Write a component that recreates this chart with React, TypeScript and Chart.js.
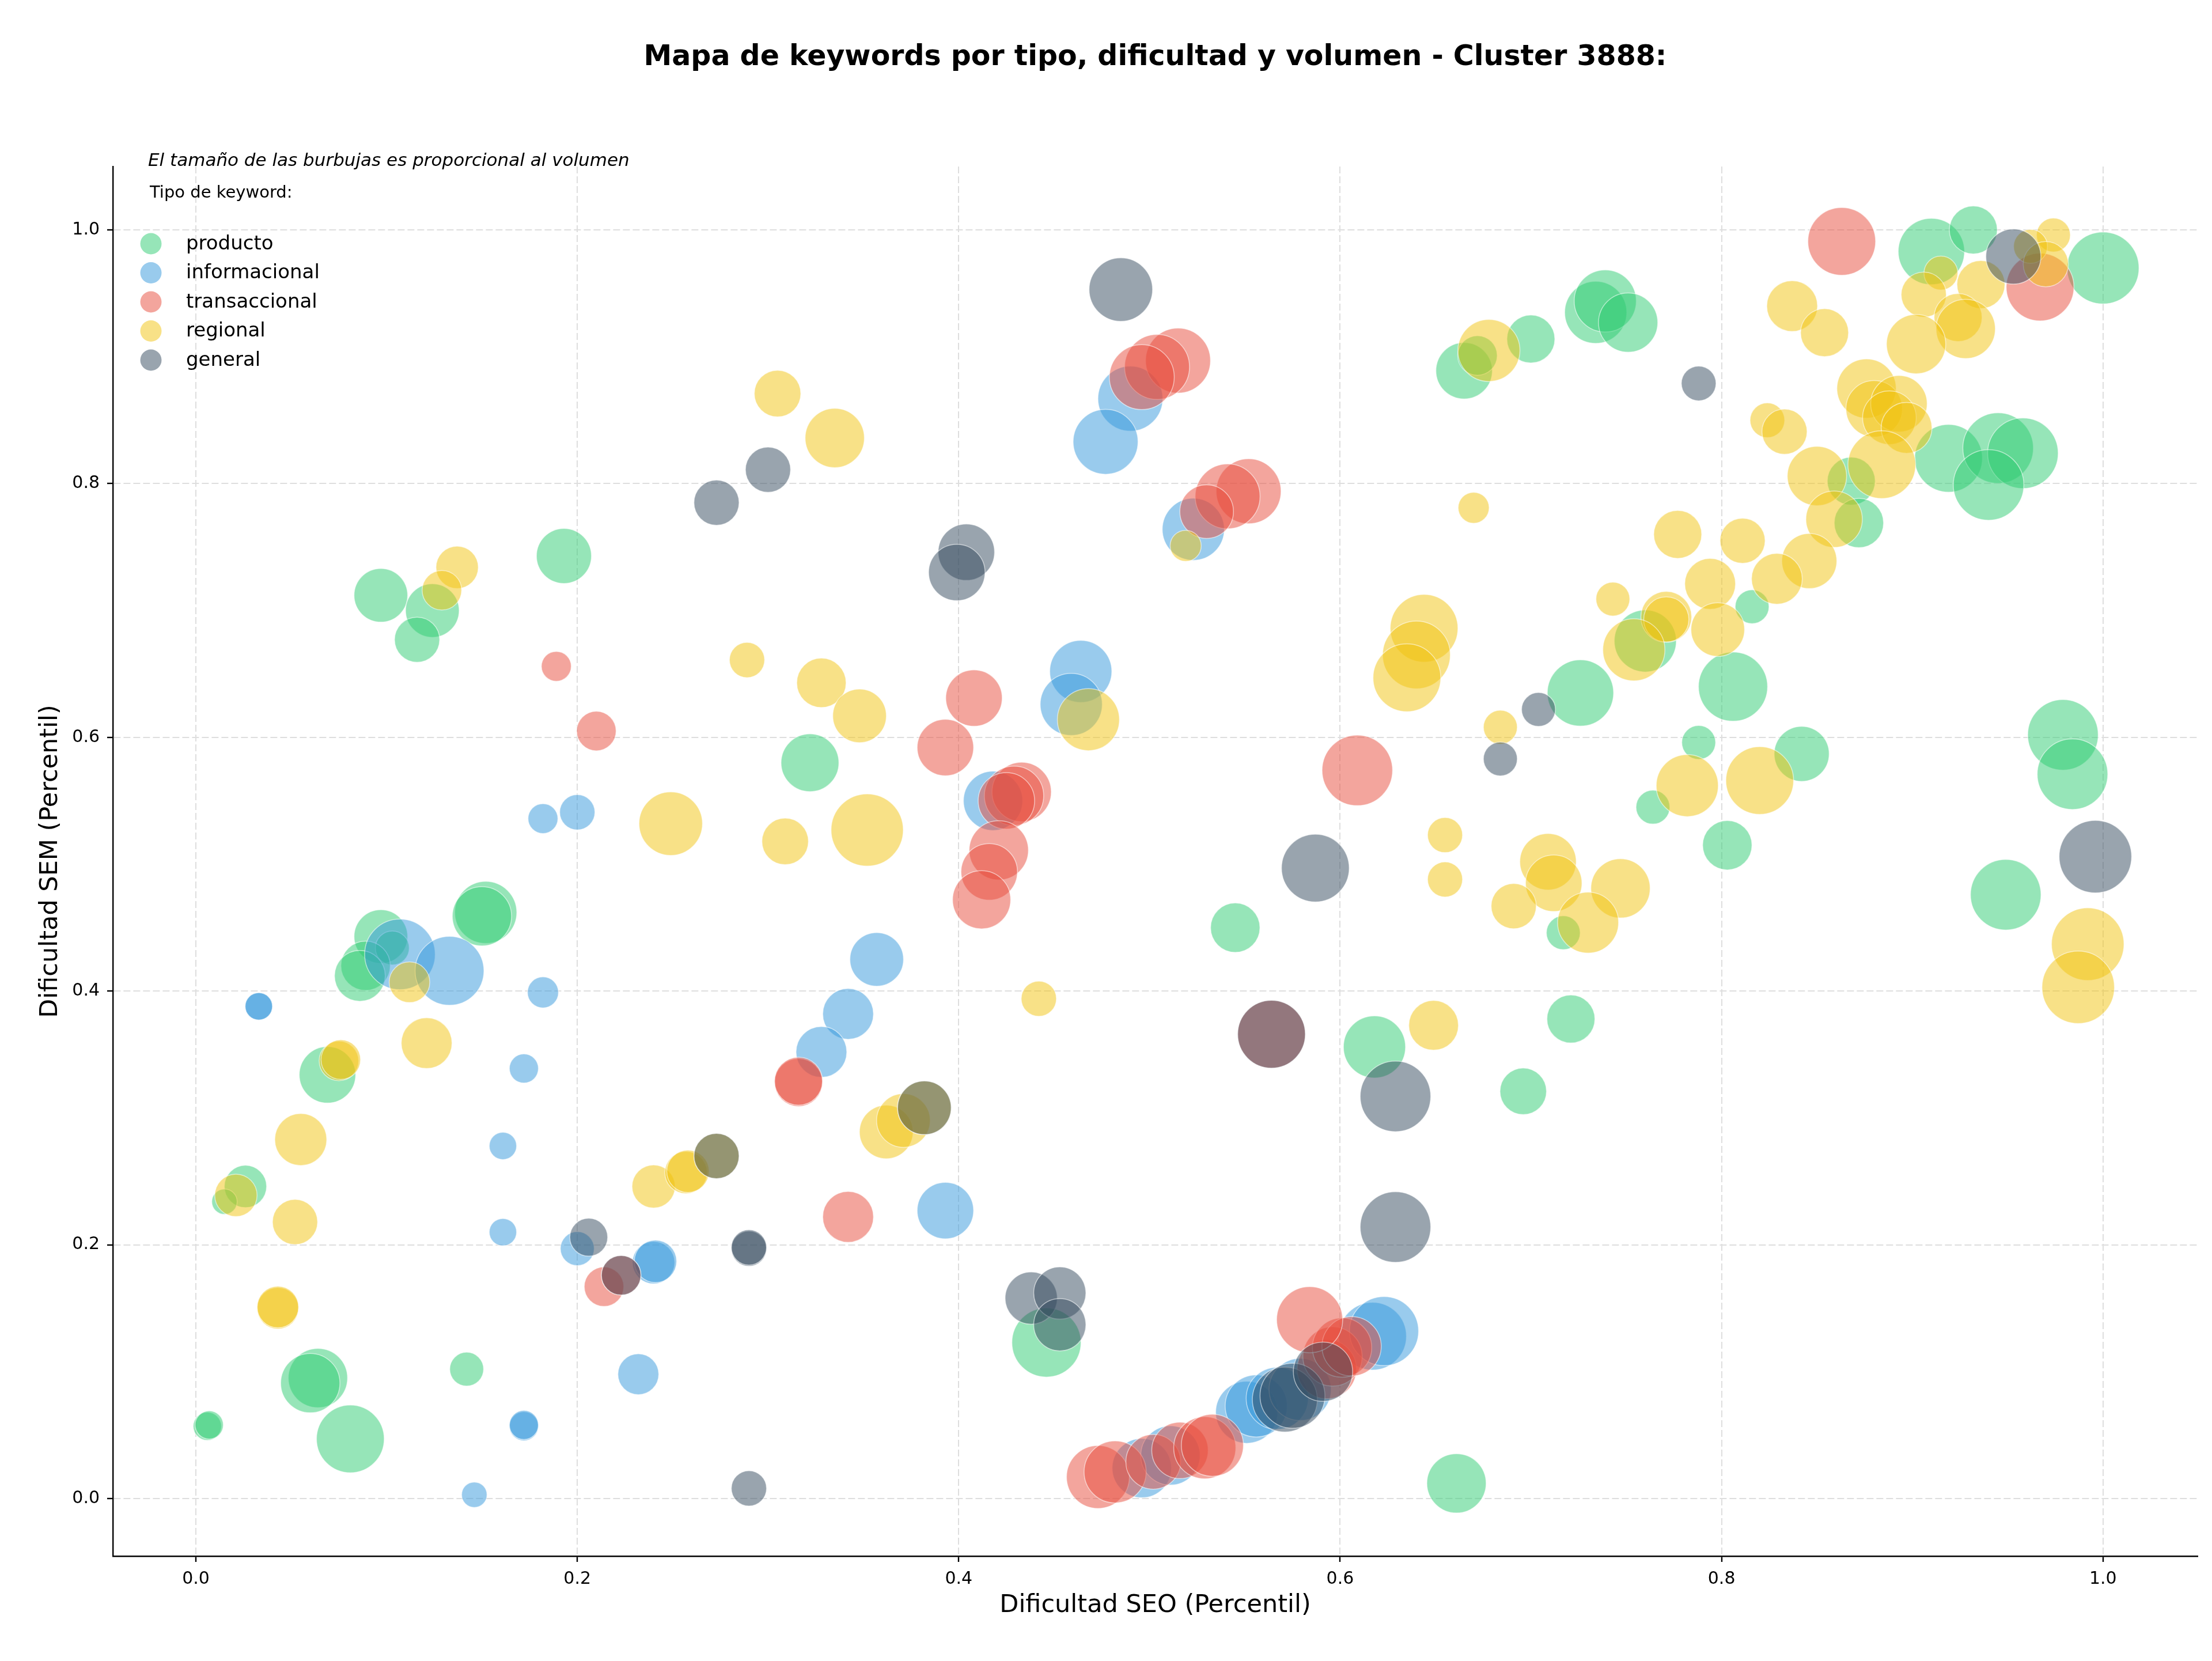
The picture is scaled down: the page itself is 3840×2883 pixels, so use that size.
import React, { useEffect, useRef } from 'react';
import { Chart, registerables } from 'chart.js';

Chart.register(...registerables);

const ANCHO = 3840;
const ALTO = 2883;

const titulo = 'Mapa de keywords por tipo, dificultad y volumen - Cluster 3888:';
const subtitulo = 'El tamaño de las burbujas es proporcional al volumen';
const tituloLeyenda = 'Tipo de keyword:';
const etiquetaX = 'Dificultad SEO (Percentil)';
const etiquetaY = 'Dificultad SEM (Percentil)';

const tiposKeyword = ['producto', 'informacional', 'transaccional', 'regional', 'general'];
const coloresTipo = ['#2ecc71', '#3498db', '#e74c3c', '#f1c40f', '#34495e'];

const ticksEje = [0, 0.2, 0.4, 0.6, 0.8, 1.0];

// producto
const productoSeo = [1.0, 0.91, 0.932, 0.734, 0.739, 0.751, 0.665, 0.672, 0.7, 0.919, 0.945, 0.958, 0.94, 0.868, 0.872, 0.816, 0.76, 0.726, 0.806, 0.788, 0.842, 0.979, 0.984, 0.764, 0.803, 0.949, 0.717, 0.721, 0.618, 0.696, 0.661, 0.545, 0.446, 0.322, 0.193, 0.097, 0.124, 0.116, 0.152, 0.15, 0.097, 0.103, 0.089, 0.086, 0.069, 0.026, 0.015, 0.064, 0.06, 0.081, 0.142, 0.006, 0.007];
const productoSem = [0.97, 0.983, 1.0, 0.935, 0.944, 0.927, 0.889, 0.901, 0.914, 0.82, 0.828, 0.824, 0.799, 0.802, 0.769, 0.703, 0.676, 0.635, 0.64, 0.596, 0.587, 0.602, 0.571, 0.545, 0.515, 0.476, 0.446, 0.378, 0.356, 0.321, 0.012, 0.45, 0.123, 0.58, 0.743, 0.712, 0.7, 0.677, 0.462, 0.459, 0.443, 0.434, 0.42, 0.412, 0.334, 0.246, 0.234, 0.095, 0.091, 0.047, 0.102, 0.057, 0.058];
const productoVol = [6500, 5520, 2890, 4840, 4840, 4410, 4000, 1960, 2890, 5760, 6250, 6250, 6250, 2890, 3060, 1440, 4840, 5520, 6000, 1440, 3800, 6250, 6250, 1440, 3060, 6250, 1440, 2890, 4840, 2720, 4410, 3060, 6000, 4200, 3800, 3610, 3610, 2560, 4840, 4410, 3610, 1440, 3060, 3240, 4000, 2250, 810, 4410, 4410, 5760, 1440, 1000, 1000];

// informacional
const informacionalSeo = [0.49, 0.477, 0.523, 0.464, 0.459, 0.357, 0.342, 0.328, 0.393, 0.24, 0.241, 0.2, 0.232, 0.172, 0.172, 0.146, 0.161, 0.161, 0.172, 0.182, 0.182, 0.2, 0.033, 0.033, 0.107, 0.133, 0.418, 0.496, 0.511, 0.551, 0.556, 0.567, 0.579, 0.617, 0.623];
const informacionalSem = [0.867, 0.833, 0.764, 0.652, 0.626, 0.425, 0.382, 0.352, 0.227, 0.186, 0.187, 0.197, 0.098, 0.057, 0.058, 0.003, 0.21, 0.278, 0.339, 0.399, 0.536, 0.541, 0.388, 0.388, 0.429, 0.416, 0.55, 0.024, 0.034, 0.068, 0.073, 0.079, 0.086, 0.128, 0.132];
const informacionalVol = [5290, 5290, 4840, 4840, 4840, 3610, 3240, 3240, 4000, 2250, 2250, 1440, 2100, 1060, 1060, 810, 940, 940, 1060, 1210, 1120, 1560, 940, 940, 6250, 5950, 4410, 4410, 4410, 4840, 4840, 4840, 4840, 5760, 6000];

// transaccional
const transaccionalSeo = [0.863, 0.967, 0.515, 0.504, 0.496, 0.552, 0.541, 0.53, 0.189, 0.21, 0.408, 0.393, 0.433, 0.429, 0.425, 0.421, 0.416, 0.412, 0.609, 0.316, 0.316, 0.342, 0.214, 0.223, 0.564, 0.473, 0.482, 0.502, 0.516, 0.529, 0.533, 0.593, 0.596, 0.601, 0.606, 0.584];
const transaccionalSem = [0.991, 0.955, 0.897, 0.892, 0.884, 0.794, 0.79, 0.778, 0.656, 0.605, 0.631, 0.592, 0.557, 0.554, 0.55, 0.511, 0.494, 0.472, 0.574, 0.328, 0.329, 0.222, 0.167, 0.176, 0.366, 0.017, 0.021, 0.029, 0.038, 0.04, 0.042, 0.102, 0.112, 0.119, 0.12, 0.141];
const transaccionalVol = [5760, 5760, 5290, 5290, 5290, 5290, 5290, 3610, 1120, 1960, 4000, 4000, 4410, 4410, 4000, 4410, 4000, 4240, 6250, 2890, 2890, 3240, 1960, 1960, 5760, 4970, 4840, 3760, 4000, 4840, 4840, 4410, 4410, 4410, 4410, 5480];

// regional
const regionalSeo = [0.974, 0.962, 0.97, 0.915, 0.936, 0.906, 0.924, 0.928, 0.902, 0.837, 0.854, 0.876, 0.88, 0.893, 0.888, 0.897, 0.884, 0.85, 0.859, 0.824, 0.833, 0.777, 0.811, 0.846, 0.829, 0.794, 0.743, 0.771, 0.771, 0.798, 0.754, 0.678, 0.67, 0.644, 0.64, 0.635, 0.684, 0.782, 0.82, 0.655, 0.655, 0.709, 0.712, 0.691, 0.747, 0.73, 0.649, 0.992, 0.987, 0.305, 0.335, 0.137, 0.129, 0.289, 0.328, 0.348, 0.468, 0.249, 0.309, 0.352, 0.442, 0.112, 0.075, 0.076, 0.121, 0.055, 0.021, 0.052, 0.043, 0.043, 0.24, 0.257, 0.258, 0.273, 0.362, 0.371, 0.382, 0.519];
const regionalSem = [0.996, 0.987, 0.973, 0.966, 0.957, 0.949, 0.931, 0.922, 0.91, 0.94, 0.919, 0.875, 0.859, 0.863, 0.852, 0.844, 0.815, 0.806, 0.772, 0.85, 0.841, 0.76, 0.755, 0.739, 0.725, 0.721, 0.709, 0.695, 0.693, 0.685, 0.669, 0.905, 0.781, 0.686, 0.665, 0.647, 0.608, 0.562, 0.566, 0.523, 0.488, 0.502, 0.485, 0.467, 0.481, 0.454, 0.373, 0.437, 0.403, 0.871, 0.836, 0.734, 0.716, 0.661, 0.643, 0.617, 0.614, 0.532, 0.518, 0.527, 0.394, 0.407, 0.345, 0.346, 0.359, 0.283, 0.239, 0.218, 0.15, 0.151, 0.246, 0.257, 0.258, 0.27, 0.289, 0.298, 0.308, 0.751];
const regionalVol = [1440, 1440, 2560, 1440, 2890, 2560, 2890, 4410, 4410, 3240, 2890, 4410, 4000, 4000, 3610, 3240, 5760, 4410, 4000, 1510, 2560, 2890, 2560, 3800, 3240, 3240, 1440, 3240, 2560, 3610, 4840, 4840, 1210, 5760, 5760, 5760, 1440, 4840, 5760, 1540, 1540, 4000, 4000, 2560, 4410, 4670, 3100, 6600, 6600, 2720, 4410, 2250, 1960, 1560, 3060, 3610, 4840, 5060, 2720, 6550, 1560, 2070, 1960, 1960, 3240, 3390, 2250, 2560, 2160, 2160, 2340, 2250, 2250, 2560, 3610, 3610, 3610, 1210];

// general
const generalSeo = [0.485, 0.3, 0.273, 0.404, 0.399, 0.788, 0.953, 0.704, 0.684, 0.587, 0.564, 0.629, 0.629, 0.996, 0.382, 0.273, 0.29, 0.29, 0.29, 0.206, 0.223, 0.438, 0.453, 0.453, 0.571, 0.575, 0.591];
const generalSem = [0.953, 0.811, 0.785, 0.746, 0.73, 0.879, 0.979, 0.622, 0.583, 0.497, 0.366, 0.317, 0.214, 0.506, 0.308, 0.27, 0.197, 0.198, 0.008, 0.206, 0.176, 0.158, 0.162, 0.137, 0.078, 0.081, 0.1];
const generalVol = [5060, 2560, 2560, 4000, 4000, 1510, 3800, 1440, 1440, 5760, 5760, 6250, 6250, 6600, 3610, 2560, 1560, 1560, 1560, 1800, 1960, 3420, 3420, 3420, 5290, 5290, 4410];

const seoPorTipo = [productoSeo, informacionalSeo, transaccionalSeo, regionalSeo, generalSeo];
const semPorTipo = [productoSem, informacionalSem, transaccionalSem, regionalSem, generalSem];
const volPorTipo = [productoVol, informacionalVol, transaccionalVol, regionalVol, generalVol];

// bubble area grows linearly with search volume
const radioDesdeVolumen = (v: number) => Math.sqrt(v) * 0.7745;

const conAlfa = (hex: string, a: number) => {
  const n = parseInt(hex.slice(1), 16);
  return `rgba(${(n >> 16) & 255}, ${(n >> 8) & 255}, ${n & 255}, ${a})`;
};

const FUENTE = '"DejaVu Sans", "Liberation Sans", sans-serif';

const textosPlugin = {
  id: 'textosMapa',
  afterDraw(chart: any) {
    const { ctx, chartArea } = chart;
    ctx.save();
    ctx.fillStyle = '#000';
    ctx.textBaseline = 'middle';

    ctx.textAlign = 'center';
    ctx.font = `bold 49px ${FUENTE}`;
    ctx.fillText(titulo, (chartArea.left + chartArea.right) / 2, 100);

    ctx.textAlign = 'left';
    ctx.font = `italic 31px ${FUENTE}`;
    ctx.fillText(subtitulo, 257, 280);

    ctx.font = `29px ${FUENTE}`;
    ctx.fillText(tituloLeyenda, 260, 335);

    tiposKeyword.forEach((tipo, i) => {
      const y = 423 + i * 50.5;
      ctx.beginPath();
      ctx.arc(262, y, 18.5, 0, Math.PI * 2);
      ctx.fillStyle = conAlfa(coloresTipo[i], 0.5);
      ctx.fill();
      ctx.fillStyle = '#000';
      ctx.textAlign = 'left';
      ctx.font = `34px ${FUENTE}`;
      ctx.fillText(tipo, 323, y + 1);
    });
    ctx.restore();
  },
};

const ejeLineal = (titulo: string, horizontal: boolean) => ({
  type: 'linear' as const,
  min: horizontal ? -0.0435 : -0.0454,
  max: horizontal ? 1.0496 : 1.05,
  afterBuildTicks: (scale: any) => {
    scale.ticks = ticksEje.map((v) => ({ value: v }));
  },
  afterFit: (scale: any) => {
    if (horizontal) scale.height = 182;
    else scale.width = 196;
  },
  ticks: {
    callback: (v: any) => Number(v).toFixed(1),
    color: '#000',
    font: { family: FUENTE, size: 30 },
    padding: horizontal ? 12 : 13,
    maxRotation: 0,
    autoSkip: false,
  },
  grid: {
    color: '#dedede',
    lineWidth: 2,
    tickColor: '#000',
    tickWidth: 2.4,
    tickLength: 10,
  },
  border: {
    display: true,
    color: '#000',
    width: 2.4,
    dash: [12, 5],
  },
  title: {
    display: true,
    text: titulo,
    color: '#000',
    font: { family: FUENTE, size: 43 },
    padding: horizontal ? { top: 0, bottom: 70 } : { top: 62, bottom: 0 },
  },
});

export default function App() {
  const lienzoRef = useRef<HTMLCanvasElement | null>(null);

  useEffect(() => {
    document.body.style.margin = '0';
    const lienzo = lienzoRef.current;
    if (!lienzo) return;

    const datasets = tiposKeyword.map((tipo, i) => ({
      label: tipo,
      data: seoPorTipo[i].map((x, j) => ({
        x,
        y: semPorTipo[i][j],
        r: radioDesdeVolumen(volPorTipo[i][j]),
      })),
      backgroundColor: conAlfa(coloresTipo[i], 0.5),
      borderColor: 'rgba(255, 255, 255, 0.55)',
      borderWidth: 1.5,
      order: tiposKeyword.length - i,
    }));

    const grafico = new Chart(lienzo, {
      type: 'bubble',
      data: { datasets },
      options: {
        responsive: false,
        animation: false,
        devicePixelRatio: 1,
        layout: { autoPadding: false, padding: { top: 289, right: 25, bottom: 0, left: 0 } },
        plugins: {
          legend: { display: false },
          title: { display: false },
          tooltip: { enabled: false },
        },
        scales: {
          x: ejeLineal(etiquetaX, true),
          y: ejeLineal(etiquetaY, false),
        },
      },
      plugins: [textosPlugin],
    });

    return () => grafico.destroy();
  }, []);

  return (
    <div style={{ width: ANCHO, height: ALTO, background: '#fff' }}>
      <canvas ref={lienzoRef} width={ANCHO} height={ALTO} style={{ display: 'block' }} />
    </div>
  );
}
